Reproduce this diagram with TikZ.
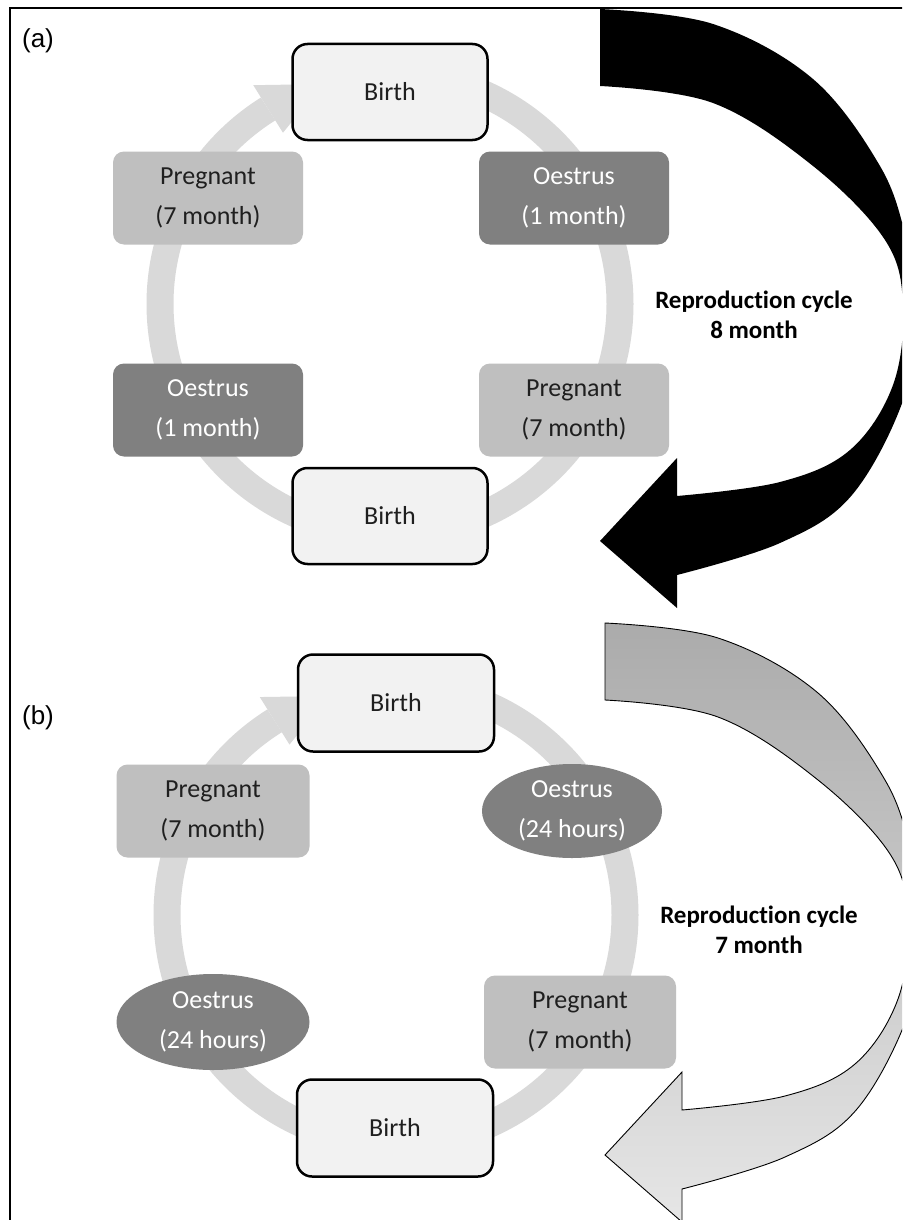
\documentclass[tikz,border=0pt]{standalone}
\usepackage{fontspec}
\setmainfont{Carlito}[Ligatures=NoCommon,RawFeature=-liga]
\newfontfamily\arialf{Liberation Sans}
\usetikzlibrary{shapes.geometric,calc}
\definecolor{ringc}{HTML}{D9D9D9}
\definecolor{birthc}{HTML}{F2F2F2}
\definecolor{lightc}{HTML}{BFBFBF}
\definecolor{darkc}{HTML}{808080}
\definecolor{txtc}{HTML}{1F1F1F}
\definecolor{texA}{HTML}{ABABAB}
\definecolor{texB}{HTML}{C4C4C4}
\definecolor{texC}{HTML}{E6E6E6}
\newcommand\bigarrowpath{%
  plot[smooth,tension=0.6] coordinates {(600,9) (713,24) (813,79) (880,166) (906,237) (918,300) (905,395) (852,495) (780,543) (677,575)}
  -- (677,608) -- (600,541) -- (677,458)
  -- plot[smooth,tension=0.6] coordinates {(677,496) (780,482) (850,450) (893,385) (903,305) (885,240) (813,166) (713,103) (600,86)}
  -- cycle}
\begin{document}
\begin{tikzpicture}[x=1pt,y=-1pt,
  nodefont/.style={font=\fontsize{26}{40}\selectfont},
  birthbox/.style={nodefont, draw=black, line width=2.5pt, fill=birthc, rounded corners=15pt,
    minimum width=195pt, minimum height=96pt, inner sep=0pt, text=txtc},
  lightbox/.style={nodefont, fill=lightc, rounded corners=11pt, minimum width=190pt,
    minimum height=93pt, inner sep=0pt, align=center, text=txtc},
  darkbox/.style={nodefont, fill=darkc, rounded corners=11pt, minimum width=190pt,
    minimum height=93pt, inner sep=0pt, align=center, text=white},
  darkell/.style={nodefont, ellipse, fill=darkc, inner sep=0pt, align=center, text=white},
  ringarc/.style={draw=ringc, line width=27pt},
  ringhead/.style={fill=ringc},
  cyclelabel/.style={font=\fontsize{25}{30}\selectfont\bfseries, align=center, text=black},
  panellabel/.style={font=\arialf\fontsize{26}{30}\selectfont, text=black}
]
\useasboundingbox (0,0) rectangle (902,1220);
\clip (0,0) rectangle (902,1220);
\fill[white] (0,0) rectangle (902,1220);

% ---------------- panel (a) ----------------
\coordinate (Ca) at (390,304);
\draw[ringarc] ($(Ca)+(90:230pt)$) arc[start angle=90, end angle=-238, radius=230pt];
\fill[ringhead] ($(Ca)+(122:202pt)$) -- ($(Ca)+(122:258pt)$) -- ($(Ca)+(107:230pt)$) -- cycle;

\node[birthbox] (a-b1) at (390,92) {Birth};
\node[lightbox] (a-p1) at (208,198) {Pregnant\\(7 month)};
\node[darkbox]  (a-o1) at (574,198) {Oestrus\\(1 month)};
\node[darkbox]  (a-o2) at (208,410) {Oestrus\\(1 month)};
\node[lightbox] (a-p2) at (574,410) {Pregnant\\(7 month)};
\node[birthbox] (a-b2) at (390,516) {Birth};

\fill[black] \bigarrowpath;
\node[cyclelabel] (a-lab) at (754,315) {Reproduction cycle\\8 month};
\node[panellabel] (a-tag) at (38,41) {(a)};

% ---------------- panel (b) ----------------
\coordinate (Cb) at (396,915);
\draw[ringarc] ($(Cb)+(90:229pt)$) arc[start angle=90, end angle=-238, radius=229pt];
\fill[ringhead] ($(Cb)+(122:201pt)$) -- ($(Cb)+(122:257pt)$) -- ($(Cb)+(107:229pt)$) -- cycle;

\node[birthbox, minimum width=196pt, minimum height=97pt] (b-b1) at (396,703) {Birth};
\node[lightbox, minimum width=193pt] (b-p1) at (213,811) {Pregnant\\(7 month)};
\node[darkell, minimum width=180pt, minimum height=94pt] (b-o1) at (572,811) {Oestrus\\(24 hours)};
\node[darkell, minimum width=193pt, minimum height=96pt] (b-o2) at (213,1022) {Oestrus\\(24 hours)};
\node[lightbox, minimum width=192pt] (b-p2) at (580,1022) {Pregnant\\(7 month)};
\node[birthbox, minimum width=196pt, minimum height=97pt] (b-b2) at (395,1128) {Birth};

\begin{scope}[shift={(5,614)}]
  \path[draw=black, line width=0.9pt, top color=texA, middle color=texB, bottom color=texC] \bigarrowpath;
\end{scope}
\node[cyclelabel] (b-lab) at (759,930) {Reproduction cycle\\7 month};
\node[panellabel] (b-tag) at (38,718) {(b)};

% frame
\draw[line width=2.5pt] (10,1225) -- (10,8) -- (905,8);
\end{tikzpicture}
\end{document}
